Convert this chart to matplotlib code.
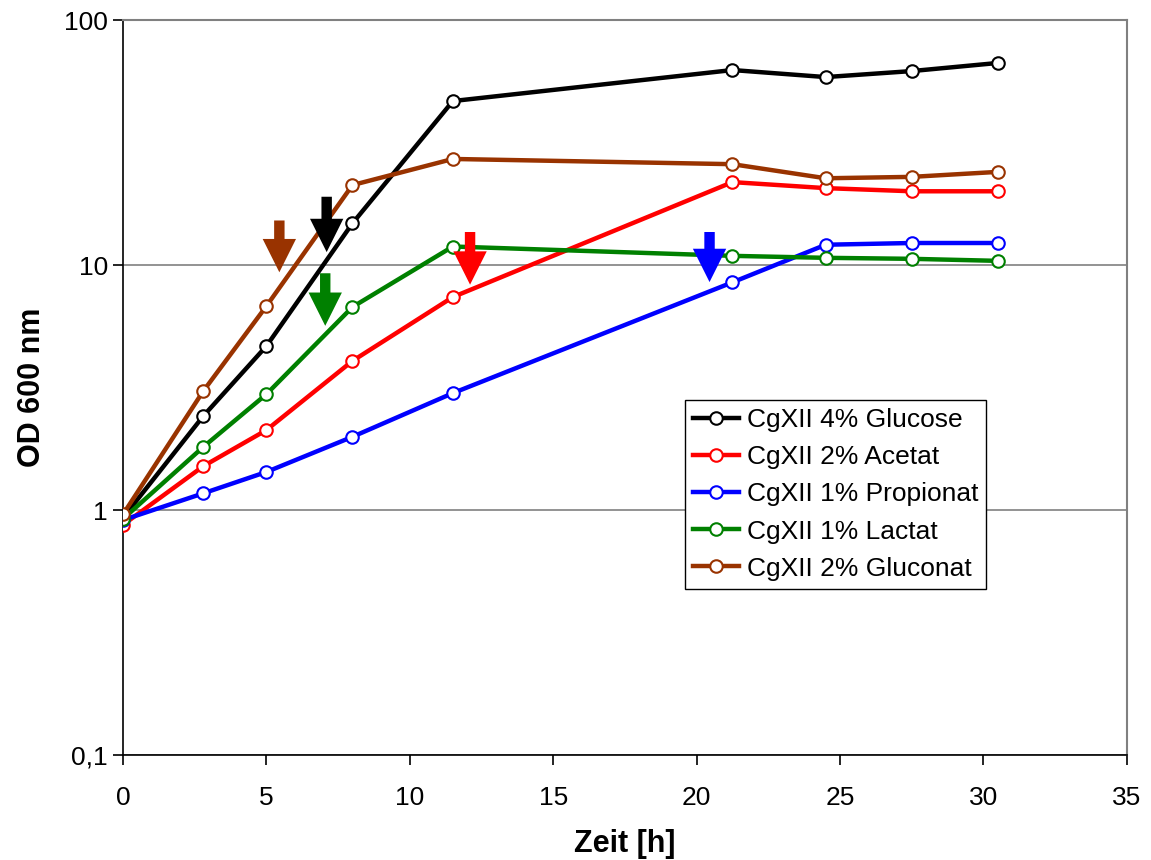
import numpy as np
import matplotlib
matplotlib.use("Agg")
import matplotlib.pyplot as plt
from matplotlib.ticker import FixedLocator, FixedFormatter, NullLocator

plt.rcParams['font.family'] = ['Liberation Sans', 'DejaVu Sans']

# Zeitpunkte [h]
zeit = [0, 2.8, 5.0, 8.0, 11.5, 21.25, 24.5, 27.5, 30.5]

# OD 600 nm Werte
glucose = [0.93, 2.42, 4.67, 14.8, 46.7, 62.5, 58.5, 61.9, 66.8]
acetat = [0.87, 1.51, 2.12, 4.06, 7.40, 21.8, 20.6, 20.0, 20.0]
propionat = [0.91, 1.17, 1.43, 1.99, 3.0, 8.5, 12.1, 12.3, 12.3]
lactat = [0.92, 1.81, 2.97, 6.74, 11.9, 10.9, 10.7, 10.6, 10.4]
gluconat = [0.96, 3.06, 6.8, 21.2, 27.1, 25.8, 22.6, 22.9, 24.0]

serien = [
    ("CgXII 4% Glucose", glucose, "black"),
    ("CgXII 2% Acetat", acetat, "#ff0000"),
    ("CgXII 1% Propionat", propionat, "#0000ff"),
    ("CgXII 1% Lactat", lactat, "#008000"),
    ("CgXII 2% Gluconat", gluconat, "#993300"),
]

# Pfeile: (x, y_start, y_spitze, farbe)
pfeile = [
    (5.45, 15.6, 9.1, "#993300"),
    (7.1, 19.5, 11.0, "black"),
    (7.05, 9.5, 5.5, "#008000"),
    (12.1, 14.0, 8.1, "#ff0000"),
    (20.45, 14.0, 8.3, "#0000ff"),
]

fig = plt.figure(figsize=(11.51, 8.6), dpi=100)
ax = fig.add_axes([0.1069, 0.1221, 0.979 - 0.1069, 0.9767 - 0.1221])

for name, werte, farbe in serien:
    ax.plot(zeit, werte, color=farbe, lw=3.2, marker="o", ms=9,
            mfc="white", mec=farbe, mew=1.5, label=name, zorder=3)

for x, y0, y1, farbe in pfeile:
    ax.annotate("", xy=(x, y1), xytext=(x, y0),
                arrowprops=dict(arrowstyle="simple,head_length=1.6,head_width=1.6,tail_width=0.5",
                                color=farbe, lw=0, mutation_scale=15),
                zorder=4)

ax.set_yscale("log")
ax.set_xlim(0, 35)
ax.set_ylim(0.1, 100)

ax.yaxis.set_major_locator(FixedLocator([0.1, 1, 10, 100]))
ax.yaxis.set_major_formatter(FixedFormatter(["0,1", "1", "10", "100"]))
ax.yaxis.set_minor_locator(NullLocator())
ax.set_xticks(np.arange(0, 36, 5))

ax.grid(axis="y", which="major", color="#808080", lw=1.2)
ax.set_axisbelow(True)

for s in ["top", "right"]:
    ax.spines[s].set_color("#808080")
    ax.spines[s].set_linewidth(1.5)
for s in ["left", "bottom"]:
    ax.spines[s].set_color("black")
    ax.spines[s].set_linewidth(1.2)

ax.tick_params(axis="both", direction="out", length=7, width=1.2,
               labelsize=19)
ax.tick_params(axis="x", pad=15)
ax.tick_params(axis="y", pad=4)

ax.set_xlabel("Zeit [h]", fontsize=22, fontweight="bold", labelpad=14)
ax.set_ylabel("OD 600 nm", fontsize=22, fontweight="bold", labelpad=12)

leg = ax.legend(loc="upper left", bbox_to_anchor=(0.5598, 0.483),
                fontsize=19, frameon=True, fancybox=False, framealpha=1,
                edgecolor="black", handlelength=1.75, handletextpad=0.3,
                borderpad=0.3, labelspacing=0.5, borderaxespad=0)
leg.get_frame().set_linewidth(1.0)

fig.savefig("out.png", dpi=100)
